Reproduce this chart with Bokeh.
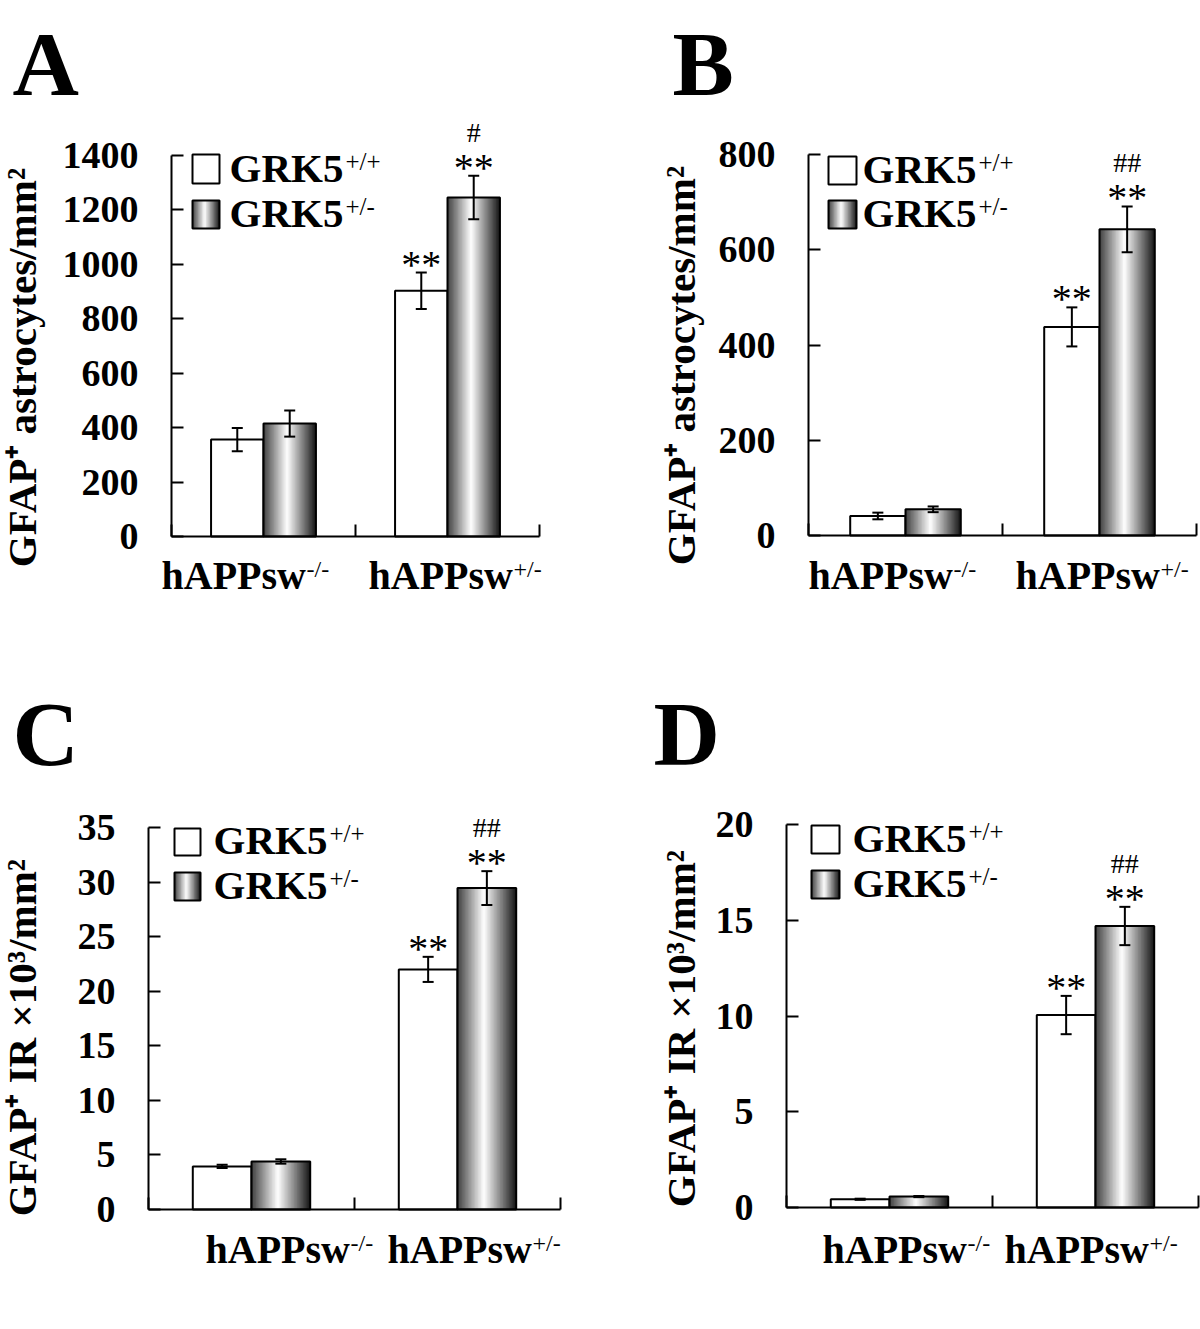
import numpy as np
from bokeh.plotting import figure
from bokeh.models import Label, LabelSet, Whisker, TeeHead, ColumnDataSource, FixedTicker, Range1d
from bokeh.layouts import column, row
from bokeh.embed import file_html
from bokeh.resources import INLINE

FONT = "Liberation Serif"

# ---------------- data ----------------
categories = ["hAPPsw", "hAPPsw"]
category_sups = ["-/-", "+/-"]
series_names = ["GRK5", "GRK5"]
series_sups = ["+/+", "+/-"]

a_wt = [356, 903]
a_wt_err = [43, 67]
a_het = [415, 1246]
a_het_err = [48, 80]
a_wt_sig = ["", "**"]
a_het_sig = ["", "**"]
a_het_hash = ["", "#"]
a_yticks = [0, 200, 400, 600, 800, 1000, 1200, 1400]
a_ylabel = "GFAP⁺ astrocytes/mm²"

b_wt = [41, 438]
b_wt_err = [7, 41]
b_het = [55, 643]
b_het_err = [6, 48]
b_wt_sig = ["", "**"]
b_het_sig = ["", "**"]
b_het_hash = ["", "##"]
b_yticks = [0, 200, 400, 600, 800]
b_ylabel = "GFAP⁺ astrocytes/mm²"

c_wt = [3.95, 22.0]
c_wt_err = [0.15, 1.15]
c_het = [4.4, 29.45]
c_het_err = [0.2, 1.55]
c_wt_sig = ["", "**"]
c_het_sig = ["", "**"]
c_het_hash = ["", "##"]
c_yticks = [0, 5, 10, 15, 20, 25, 30, 35]
c_ylabel = "GFAP⁺ IR ×10³/mm²"

d_wt = [0.43, 10.05]
d_wt_err = [0.03, 1.0]
d_het = [0.57, 14.7]
d_het_err = [0.03, 1.0]
d_wt_sig = ["", "**"]
d_het_sig = ["", "**"]
d_het_hash = ["", "##"]
d_yticks = [0, 5, 10, 15, 20]
d_ylabel = "GFAP⁺ IR ×10³/mm²"


def shade(t):
    # cylinder-like grey gradient: dark left, white near 45%, near-black right
    if t < 0.45:
        lv = 0.25 + (1.0 - 0.25) * (t / 0.45)
    else:
        lv = 1.0 - (1.0 - 0.08) * ((t - 0.45) / 0.55)
    v = int(round(255 * lv))
    return "#%02x%02x%02x" % (v, v, v)


def make_panel(letter, wt, wt_err, het, het_err, wt_sig, het_sig, het_hash,
               yticks, ylabel, g):
    ymax = yticks[-1]
    ox, oy = g["origin"]
    W, H = g["size"]
    fl, fr, ft, fb = g["plot"]          # page pixels of the data area (axes box)
    sx = 2.0 / (fr - fl)
    sy = ymax / (fb - ft)
    xr = Range1d(-(fl - ox) * sx, 2.0 + (ox + W - fr) * sx)
    yr = Range1d(-(oy + H - fb) * sy, ymax + (ft - oy) * sy)
    p = figure(width=W, height=H, x_range=xr, y_range=yr,
               output_backend="svg", toolbar_location=None, min_border=0,
               min_border_left=0, min_border_right=0, min_border_top=0,
               min_border_bottom=0)
    p.title.visible = False
    p.outline_line_color = None
    p.xgrid.visible = False
    p.ygrid.visible = False
    p.background_fill_color = "white"
    p.border_fill_color = "white"

    for ax in (p.xaxis[0], p.yaxis[0]):
        ax.fixed_location = 0
        ax.axis_line_width = 2
        ax.axis_line_color = "black"
        ax.major_tick_line_width = 2
        ax.major_tick_line_color = "black"
        ax.major_tick_in = 12
        ax.major_tick_out = 0
        ax.minor_tick_line_width = 2
        ax.minor_tick_line_color = "black"
        ax.minor_tick_in = 12
        ax.minor_tick_out = 0
    p.xaxis.bounds = (0, 2)
    p.yaxis.bounds = (0, ymax)
    p.xaxis.ticker = FixedTicker(ticks=[], minor_ticks=[0, 1, 2])
    p.yaxis.ticker = FixedTicker(ticks=yticks, minor_ticks=[])
    p.yaxis.minor_tick_line_color = None
    p.yaxis.major_label_text_font = FONT
    p.yaxis.major_label_text_font_style = "bold"
    p.yaxis.major_label_text_font_size = "38px"
    p.yaxis.major_label_text_color = "black"
    p.yaxis.major_label_standoff = 33

    def dx(px):
        return (px - fl) * sx

    def dy(py):
        return (fb - py) * sy

    def lab(text, px, py, size, bold=True):
        # py is the wanted glyph baseline; 'bottom' anchoring sits below it by the descent
        p.add_layout(Label(x=0, y=0, x_units="data", y_units="data",
                           x_offset=px - fl, y_offset=fb - (py + 0.19 * size), text=text,
                           text_font=FONT, text_font_size="%dpx" % size,
                           text_font_style="bold" if bold else "normal",
                           text_baseline="bottom", text_color="black"))

    bw = 0.285
    centers = np.arange(len(categories)) + 0.5
    wt_x = centers - bw / 2
    het_x = centers + bw / 2

    # white bars
    p.vbar(x=wt_x, top=wt, width=bw, bottom=0, fill_color="white",
           line_color="black", line_width=2)

    # gradient bars built from thin strips
    N = 40
    L, R, T, C = [], [], [], []
    for i in range(len(het)):
        x0 = het_x[i] - bw / 2
        for k in range(N):
            L.append(x0 + k * bw / N)
            R.append(x0 + min(k + 1.6, N) * bw / N)
            T.append(het[i])
            C.append(shade((k + 0.5) / N))
    p.quad(left=L, right=R, bottom=0, top=T, fill_color=C, line_color=None)
    p.vbar(x=het_x, top=het, width=bw, bottom=0, fill_alpha=0,
           line_color="black", line_width=2)

    # error bars
    ex = list(wt_x) + list(het_x)
    ev = list(wt) + list(het)
    ee = list(wt_err) + list(het_err)
    src = ColumnDataSource(dict(x=ex, upper=[v + e for v, e in zip(ev, ee)],
                                lower=[v - e for v, e in zip(ev, ee)]))
    p.add_layout(Whisker(source=src, base="x", upper="upper", lower="lower",
                         level="overlay", line_color="black", line_width=2,
                         upper_head=TeeHead(size=11, line_width=2, line_color="black"),
                         lower_head=TeeHead(size=11, line_width=2, line_color="black")))

    # significance marks
    sig_src = ColumnDataSource(dict(x=ex, y=src.data["upper"],
                                    text=list(wt_sig) + list(het_sig)))
    p.add_layout(LabelSet(source=sig_src, x="x", y="y", text="text",
                          text_font=FONT, text_font_size="40px", text_align="center",
                          text_baseline="alphabetic", y_offset=-5, text_color="black"))
    hash_src = ColumnDataSource(dict(x=list(het_x), y=[v + e for v, e in zip(het, het_err)],
                                     text=list(het_hash)))
    p.add_layout(LabelSet(source=hash_src, x="x", y="y", text="text",
                          text_font=FONT, text_font_size="28px", text_align="center",
                          text_baseline="alphabetic", y_offset=34, text_color="black"))

    # legend markers
    lg = g["legend"]
    bx0, bx1 = lg["box"]
    (r1t, r1b), (r2t, r2b) = lg["rows"]
    p.quad(left=[dx(bx0)], right=[dx(bx1)], bottom=[dy(r1b)], top=[dy(r1t)],
           fill_color="white", line_color="black", line_width=2)
    M = 20
    gl, gr, gc = [], [], []
    for k in range(M):
        gl.append(dx(bx0 + k * (bx1 - bx0) / M))
        gr.append(dx(bx0 + min(k + 1.6, M) * (bx1 - bx0) / M))
        gc.append(shade((k + 0.5) / M))
    p.quad(left=gl, right=gr, bottom=dy(r2b), top=dy(r2t), fill_color=gc, line_color=None)
    p.quad(left=[dx(bx0)], right=[dx(bx1)], bottom=[dy(r2b)], top=[dy(r2t)],
           fill_alpha=0, line_color="black", line_width=2)
    tx = lg["text_x"]
    for name, sup, base in zip(series_names, series_sups, lg["baselines"]):
        lab(name, tx, base, 41)
        lab(sup, tx + 116, base - 13, 25, bold=False)

    # category labels
    cl = g["cats"]
    for name, sup, x0 in zip(categories, category_sups, cl["x"]):
        lab(name, x0, cl["baseline"], 40)
        lab(sup, x0 + 145, cl["baseline"] - 13, 24, bold=False)

    # y-axis title (rotated)
    yx, yc = g["ylab"]
    p.add_layout(Label(x=0, y=0, x_units="data", y_units="data",
                       x_offset=yx - fl, y_offset=fb - yc, text=ylabel,
                       text_font=FONT, text_font_size="41px", text_font_style="bold",
                       angle=np.pi / 2, text_align="center",
                       text_baseline="alphabetic", text_color="black"))

    # panel letter
    lx, ly = g["letter"]
    lab(letter, lx, ly, 92)
    return p


geoms = {
    "A": dict(origin=(0, 0), size=(600, 665), plot=(171, 539, 155, 536),
              legend=dict(box=(192, 219), rows=((154, 183), (200, 228)), text_x=229,
                          baselines=(183, 228)),
              cats=dict(x=(161, 368), baseline=590), ylab=(21, 367), letter=(12, 97)),
    "B": dict(origin=(600, 0), size=(600, 665), plot=(808, 1196, 154, 535),
              legend=dict(box=(828, 856), rows=((156, 184), (200, 228)), text_x=862,
                          baselines=(184, 228)),
              cats=dict(x=(808, 1015), baseline=590), ylab=(680, 365), letter=(672, 97)),
    "C": dict(origin=(0, 665), size=(600, 664), plot=(148, 560, 827, 1209),
              legend=dict(box=(174, 200), rows=((828, 855), (872, 900)), text_x=213,
                          baselines=(855, 900)),
              cats=dict(x=(205, 387), baseline=1264), ylab=(21, 1037), letter=(12, 767)),
    "D": dict(origin=(600, 665), size=(600, 664), plot=(786, 1198, 824, 1207),
              legend=dict(box=(811, 839), rows=((825, 853), (870, 898)), text_x=852,
                          baselines=(853, 898)),
              cats=dict(x=(822, 1004), baseline=1264), ylab=(680, 1028), letter=(653, 767)),
}

pa = make_panel("A", a_wt, a_wt_err, a_het, a_het_err, a_wt_sig, a_het_sig, a_het_hash,
                a_yticks, a_ylabel, geoms["A"])
pb = make_panel("B", b_wt, b_wt_err, b_het, b_het_err, b_wt_sig, b_het_sig, b_het_hash,
                b_yticks, b_ylabel, geoms["B"])
pc = make_panel("C", c_wt, c_wt_err, c_het, c_het_err, c_wt_sig, c_het_sig, c_het_hash,
                c_yticks, c_ylabel, geoms["C"])
pd = make_panel("D", d_wt, d_wt_err, d_het, d_het_err, d_wt_sig, d_het_sig, d_het_hash,
                d_yticks, d_ylabel, geoms["D"])

layout = column(row(pa, pb, spacing=0), row(pc, pd, spacing=0), spacing=0)
open("out.html", "w").write(file_html(layout, INLINE))
